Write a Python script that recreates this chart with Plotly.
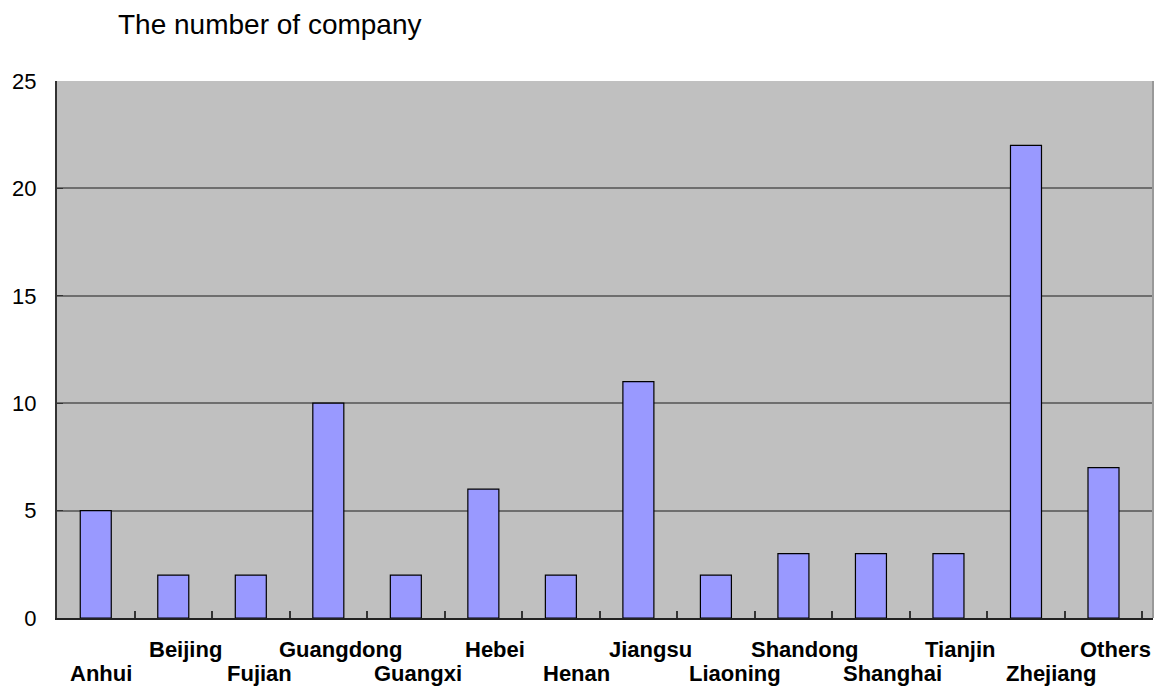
import plotly.graph_objects as go

provinces = ["Anhui", "Beijing", "Fujian", "Guangdong", "Guangxi", "Hebei", "Henan",
             "Jiangsu", "Liaoning", "Shandong", "Shanghai", "Tianjin", "Zhejiang", "Others"]
companies = [5, 2, 2, 10, 2, 6, 2, 11, 2, 3, 3, 3, 22, 7]
y_ticks = [0, 5, 10, 15, 20, 25]

# page body has an 8px default margin; size the figure to the remaining area
W, H = 1165, 683

fig = go.Figure()
fig.add_trace(go.Bar(
    x=provinces, y=companies,
    marker=dict(color="#9999FF", line=dict(color="#000000", width=1.2)),
    width=0.4,
))

annotations = []
for i, name in enumerate(provinces):
    lower = (i % 2 == 0)
    annotations.append(dict(
        x=name, y=0, xref="x", yref="paper",
        text=name, showarrow=False,
        yanchor="middle", xanchor="center",
        yshift=-55 if lower else -31,
        xshift=(5 + 1.7 * i) if lower else 12,
        font=dict(family="Liberation Sans, Arial", size=22, color="#000000", weight="bold"),
    ))

fig.update_layout(
    width=W, height=H,
    margin=dict(l=49, r=20, t=73, b=73, autoexpand=False),
    paper_bgcolor="#FFFFFF",
    plot_bgcolor="#C0C0C0",
    showlegend=False,
    font=dict(family="Liberation Sans, Arial", color="#000000"),
    title=dict(
        text="The number of company",
        xref="container", yref="container",
        x=110 / W, xanchor="left",
        y=1 - 6 / H, yanchor="top",
        font=dict(family="Liberation Sans, Arial", size=28, color="#000000"),
    ),
    annotations=annotations,
    shapes=[dict(type="line", xref="paper", yref="paper", x0=1, x1=1, y0=0, y1=1,
                 line=dict(color="#999999", width=2))],
)

fig.update_xaxes(
    showticklabels=False,
    ticks="inside", tickson="boundaries", ticklen=7, tickcolor="#333333", tickwidth=1.5,
    showline=True, linecolor="#222222", linewidth=2,
    showgrid=False, automargin=False,
)
fig.update_yaxes(
    range=[0, 25], tickvals=y_ticks,
    ticks="inside", ticklen=6, tickcolor="#333333",
    showline=True, linecolor="#333333", linewidth=2,
    gridcolor="#6e6e6e", gridwidth=1.5,
    tickfont=dict(family="Liberation Sans, Arial", size=22, color="#000000"),
    ticklabelstandoff=14,
    zeroline=False, automargin=False,
)

fig.write_html("out.html")
